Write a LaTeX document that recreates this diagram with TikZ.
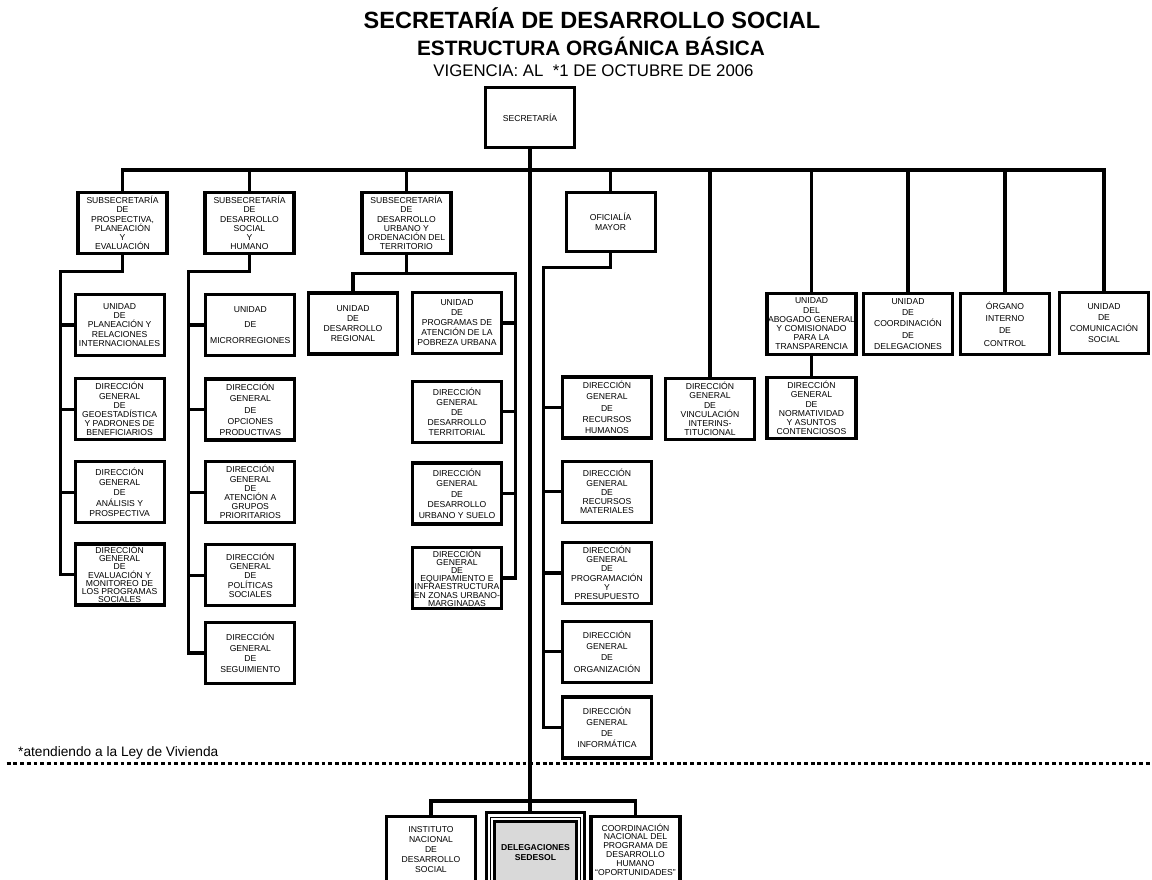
\documentclass[tikz,border=0pt]{standalone}
\usepackage{fontspec}
\setmainfont{Liberation Sans}
\usetikzlibrary{calc}
\tikzset{
  unidad/.style={draw, line width=3.2pt, fill=white, minimum width=89pt, minimum height=61pt,
    inner sep=0pt, align=center, font=\fontsize{8.6}{9.2}\selectfont},
  apretado/.style={font=\fontsize{8.6}{8.2}\selectfont},
  linea/.style={line width=3.2pt, line cap=rect},
}
\begin{document}
\begin{tikzpicture}[x=1pt,y=-1pt]
  \useasboundingbox (0,0) rectangle (1152,879);

  \node[anchor=base,font=\fontsize{23.5}{26}\selectfont\bfseries] (titulo) at (592,28) {SECRETARÍA DE DESARROLLO SOCIAL};
  \node[anchor=base,font=\fontsize{20.8}{24}\selectfont\bfseries] (subtitulo) at (591,55) {ESTRUCTURA ORGÁNICA BÁSICA};
  \node[anchor=base,font=\fontsize{16.8}{20}\selectfont] (vigencia) at (593.5,76) {VIGENCIA: AL\ \ *1 DE OCTUBRE DE 2006};

  \node[unidad,minimum height=60pt] (sec) at (530,117.5) {SECRETARÍA};

  \node[unidad] (sub1) at (122.5,223) {SUBSECRETARÍA\\DE\\PROSPECTIVA,\\PLANEACIÓN\\Y\\EVALUACIÓN};
  \node[unidad] (sub2) at (249.5,223) {SUBSECRETARÍA\\DE\\DESARROLLO\\SOCIAL\\Y\\HUMANO};
  \node[unidad] (sub3) at (406.4,223) {SUBSECRETARÍA\\DE\\DESARROLLO\\URBANO Y\\ORDENACIÓN DEL\\TERRITORIO};
  \node[unidad,minimum height=59pt] (ofm) at (610.6,222) {OFICIALÍA\\[1pt]MAYOR};

  \node[unidad] (abog) at (811.5,324) {UNIDAD\\DEL\\ABOGADO GENERAL\\Y COMISIONADO\\PARA LA\\TRANSPARENCIA};
  \node[unidad] (ucd) at (908,324) {UNIDAD\\[2.2pt]DE\\[2.2pt]COORDINACIÓN\\[2.2pt]DE\\[2.2pt]DELEGACIONES};
  \node[unidad] (oic) at (1005,324) {ÓRGANO\\[3.2pt]INTERNO\\[3.2pt]DE\\[3.2pt]CONTROL};
  \node[unidad] (ucs) at (1104,323) {UNIDAD\\[2pt]DE\\[2pt]COMUNICACIÓN\\[2pt]SOCIAL};

  \node[unidad] (dgvi) at (710,409) {DIRECCIÓN\\GENERAL\\DE\\VINCULACIÓN\\INTERINS-\\TITUCIONAL};
  \node[unidad] (dgnc) at (811.5,408) {DIRECCIÓN\\GENERAL\\DE\\NORMATIVIDAD\\Y ASUNTOS\\CONTENCIOSOS};

  \node[unidad] (upri) at (119.6,325) {UNIDAD\\DE\\PLANEACIÓN Y\\RELACIONES\\INTERNACIONALES};
  \node[unidad] (dgge) at (119.6,409.3) {DIRECCIÓN\\GENERAL\\DE\\GEOESTADÍSTICA\\Y PADRONES DE\\BENEFICIARIOS};
  \node[unidad] (dgap) at (119.6,492.2) {DIRECCIÓN\\[1pt]GENERAL\\[1pt]DE\\[1pt]ANÁLISIS Y\\[1pt]PROSPECTIVA};
  \node[unidad,apretado] (dgem) at (119.6,574.5) {DIRECCIÓN\\GENERAL\\DE\\EVALUACIÓN Y\\MONITOREO DE\\LOS PROGRAMAS\\SOCIALES};

  \node[unidad] (umic) at (250.3,325) {UNIDAD\\[6.3pt]DE\\[6.3pt]MICRORREGIONES};
  \node[unidad] (dgop) at (250.3,409.5) {DIRECCIÓN\\[2pt]GENERAL\\[2pt]DE\\[2pt]OPCIONES\\[2pt]PRODUCTIVAS};
  \node[unidad] (dgag) at (250.3,492.2) {DIRECCIÓN\\GENERAL\\DE\\ATENCIÓN A\\GRUPOS\\PRIORITARIOS};
  \node[unidad] (dgps) at (250.3,575.2) {DIRECCIÓN\\GENERAL\\DE\\POLÍTICAS\\SOCIALES};
  \node[unidad] (dgse) at (250.3,653) {DIRECCIÓN\\[1.3pt]GENERAL\\[1.3pt]DE\\[1.3pt]SEGUIMIENTO};

  \node[unidad] (udr) at (353,323.5) {UNIDAD\\[0.8pt]DE\\[0.8pt]DESARROLLO\\[0.8pt]REGIONAL};
  \node[unidad] (upau) at (457,323) {UNIDAD\\[0.8pt]DE\\[0.8pt]PROGRAMAS DE\\[0.8pt]ATENCIÓN DE LA\\[0.8pt]POBREZA URBANA};
  \node[unidad] (dgdt) at (457,411.7) {DIRECCIÓN\\[0.8pt]GENERAL\\[0.8pt]DE\\[0.8pt]DESARROLLO\\[0.8pt]TERRITORIAL};
  \node[unidad] (dgdu) at (457,493.5) {DIRECCIÓN\\[1.3pt]GENERAL\\[1.3pt]DE\\[1.3pt]DESARROLLO\\[1.3pt]URBANO Y SUELO};
  \node[unidad,apretado] (dgei) at (457,578) {DIRECCIÓN\\GENERAL\\DE\\EQUIPAMIENTO E\\INFRAESTRUCTURA\\EN ZONAS URBANO-\\MARGINADAS};

  \node[unidad] (dgrh) at (607,407.5) {DIRECCIÓN\\[2pt]GENERAL\\[2pt]DE\\[2pt]RECURSOS\\[2pt]HUMANOS};
  \node[unidad] (dgrm) at (607,491.7) {DIRECCIÓN\\GENERAL\\DE\\RECURSOS\\MATERIALES};
  \node[unidad] (dgpp) at (607,572.9) {DIRECCIÓN\\GENERAL\\DE\\PROGRAMACIÓN\\Y\\PRESUPUESTO};
  \node[unidad] (dgor) at (607,651.7) {DIRECCIÓN\\[2pt]GENERAL\\[2pt]DE\\[2pt]ORGANIZACIÓN};
  \node[unidad] (dgin) at (607,727.5) {DIRECCIÓN\\[2pt]GENERAL\\[2pt]DE\\[2pt]INFORMÁTICA};

  \node[unidad,anchor=north,minimum height=66pt] (indesol) at (431,815) {INSTITUTO\\[0.8pt]NACIONAL\\[0.8pt]DE\\[0.8pt]DESARROLLO\\[0.8pt]SOCIAL};
  \node[unidad,anchor=north,minimum height=62pt,minimum width=82.4pt,fill=black!15,font=\fontsize{8.6}{10}\selectfont\bfseries] (dele) at (535.5,820) {DELEGACIONES\\SEDESOL};
  \node[unidad,anchor=north,minimum height=66pt,font=\fontsize{8.6}{8.9}\selectfont] (opor) at (635.5,815) {COORDINACIÓN\\NACIONAL DEL\\PROGRAMA DE\\DESARROLLO\\HUMANO\\“OPORTUNIDADES”};
  \draw[line width=1pt] ($(dele.north west)+(-2.6,-3)$) rectangle ($(dele.south east)+(2.6,3)$);
  \draw[line width=3.2pt] ($(dele.north west)+(-6.3,-7.4)$) rectangle ($(dele.south east)+(6.3,7.4)$);

  \coordinate (bus) at (530,170);
  \coordinate (dtop) at ($(dele.north)+(0,-8)$);
  \draw[linea] (sec.south) -- (sec.south |- dtop);
  \draw[linea] (sub1.north) |- (bus) -| (ucs.north);
  \foreach \n in {sub2,sub3,ofm,dgvi,abog,ucd,oic}
    \draw[linea] (\n.north) -- (\n.north |- bus);
  \draw[linea] (abog.south) -- (dgnc.north);

  \coordinate (r1) at (60.7,271.7);
  \draw[linea] (sub1.south) |- (r1) |- (dgem.west);
  \foreach \n in {upri,dgge,dgap}
    \draw[linea] (r1 |- \n.west) -- (\n.west);

  \coordinate (r2) at (188.2,271.7);
  \draw[linea] (sub2.south) |- (r2) |- (dgse.west);
  \foreach \n in {umic,dgop,dgag,dgps}
    \draw[linea] (r2 |- \n.west) -- (\n.west);

  \coordinate (r3) at (515.5,273.3);
  \draw[linea] (sub3.south) -- (sub3.south |- r3);
  \draw[linea] (udr.north) |- (r3) |- (dgei.east);
  \foreach \n in {upau,dgdt,dgdu}
    \draw[linea] (r3 |- \n.east) -- (\n.east);

  \coordinate (r4) at (543.3,267.7);
  \draw[linea] (ofm.south) |- (r4) |- (dgin.west);
  \foreach \n in {dgrh,dgrm,dgpp,dgor}
    \draw[linea] (r4 |- \n.west) -- (\n.west);

  \coordinate (bbus) at (530,801);
  \draw[linea] (indesol.north) |- (bbus) -| (opor.north);

  \node[anchor=base west,inner sep=0pt,font=\fontsize{13.7}{16}\selectfont] (nota) at (18,756.7) {*atendiendo a la Ley de Vivienda};
  \coordinate (pl) at (6.7,763.5);
  \coordinate (pr) at (1152,763.5);
  \draw[line width=3pt, dash pattern=on 3.8pt off 2.9pt] (pl) -- (pr);
\end{tikzpicture}
\end{document}
